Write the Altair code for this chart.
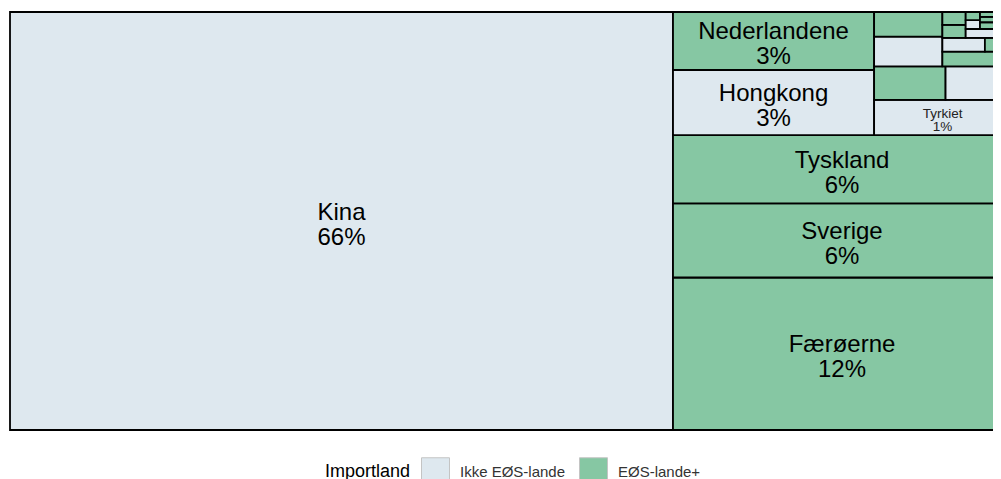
import altair as alt
import pandas as pd

# ---- data (import shares, percent) ----
lande = ["Kina", "Færøerne", "Sverige", "Tyskland", "Hongkong", "Nederlandene", "Tyrkiet",
         "Land 8", "Land 9", "Land 10", "Land 11", "Land 12", "Land 13", "Land 14",
         "Land 15", "Land 16", "Land 17", "Land 18", "Land 19", "Land 20", "Land 21",
         "Land 22", "Land 23", "Land 24", "Land 25", "Land 26"]
grupper = ["Ikke EØS-lande", "EØS-lande+", "EØS-lande+", "EØS-lande+", "Ikke EØS-lande",
           "EØS-lande+", "Ikke EØS-lande",
           "EØS-lande+", "Ikke EØS-lande", "Ikke EØS-lande", "EØS-lande+", "EØS-lande+",
           "Ikke EØS-lande", "EØS-lande+", "EØS-lande+", "EØS-lande+", "Ikke EØS-lande",
           "Ikke EØS-lande", "Ikke EØS-lande", "EØS-lande+", "EØS-lande+", "Ikke EØS-lande",
           "EØS-lande+", "EØS-lande+", "Ikke EØS-lande", "EØS-lande+"]
andele = [66.23, 12.32, 5.98, 5.52, 3.13, 2.787, 1.151,
          0.5725, 0.5244, 0.4841, 0.4032, 0.2438, 0.1389, 0.0853,
          0.072, 0.072, 0.060, 0.036, 0.030, 0.028, 0.026,
          0.024, 0.022, 0.020, 0.018, 0.016]
gruppe_orden = ["Ikke EØS-lande", "EØS-lande+"]
farver = ["#dee8ef", "#86c7a3"]


# ---- squarified treemap layout in a unit square ----
def worst(row, side):
    s = sum(row)
    return max(max(side * side * r / (s * s), (s * s) / (side * side * r)) for r in row)


def squarify(values, x, y, w, h):
    out = []
    items = list(values)
    while items:
        side = min(w, h)
        row = [items[0]]
        i = 1
        while i < len(items):
            cand = row + [items[i]]
            if worst([v for _, v in cand], side) <= worst([v for _, v in row], side):
                row = cand
                i += 1
            else:
                break
        s = sum(v for _, v in row)
        if w >= h:
            cw = s / h
            yy = y
            for k, v in row:
                rh = v / cw
                out.append((k, x, yy, x + cw, yy + rh))
                yy += rh
            x += cw
            w -= cw
        else:
            rh = s / w
            xx = x
            for k, v in row:
                rw = v / rh
                out.append((k, xx, y, xx + rw, y + rh))
                xx += rw
            y += rh
            h -= rh
        items = items[len(row):]
    return out


total = sum(andele)
order = sorted(range(len(andele)), key=lambda i: -andele[i])
rects = squarify([(i, andele[i] / total) for i in order], 0.0, 0.0, 1.0, 1.0)

rows = []
for k, x0, y0, x1, y1 in rects:
    rows.append({"land": lande[k], "gruppe": grupper[k], "frac": andele[k] / total,
                 "x0": x0, "x1": x1, "y0": y0, "y1": y1})
df = pd.DataFrame(rows)

FONT = "Liberation Sans"
FULL_W = 1001           # full treemap width; the right edge runs past the window
W, H = 983, 418         # visible part of the plot area

xs = alt.Scale(domain=[0, W / FULL_W], nice=False, zero=False)
ys = alt.Scale(domain=[0, 1], nice=False, zero=False)

base = alt.Chart(df)

tiles = base.mark_rect(stroke="black", strokeWidth=1.8).encode(
    x=alt.X("x0:Q", scale=xs, axis=None),
    x2="x1:Q",
    y=alt.Y("y0:Q", scale=ys, axis=None),
    y2="y1:Q",
    color=alt.Color(
        "gruppe:N",
        scale=alt.Scale(domain=gruppe_orden, range=farver),
        legend=alt.Legend(
            title="Importland", orient="none", direction="horizontal",
            titleOrient="left", legendX=315, legendY=445,
            symbolType="square", symbolSize=784,
            symbolStrokeColor="#c4c4c4", symbolStrokeWidth=1, symbolOpacity=1,
            labelFontSize=15, titleFontSize=18, titleFontWeight="normal",
            labelFont=FONT, titleFont=FONT, labelColor="#333333", titleColor="#000000",
            columnPadding=11, labelOffset=10, titlePadding=10,
        ),
    ),
)

lab_base = base.transform_calculate(
    cx="(datum.x0 + datum.x1) / 2",
    cy="(datum.y0 + datum.y1) / 2",
    label="datum.land + '\\n' + format(datum.frac, '.0%')",
)
enc = dict(
    x=alt.X("cx:Q", scale=xs, axis=None),
    y=alt.Y("cy:Q", scale=ys, axis=None),
    text="label:N",
)

labels_big = lab_base.transform_filter("datum.frac >= 0.02").mark_text(
    font=FONT, lineBreak="\n", baseline="middle", align="center", color="black",
    fontSize=24, lineHeight=25, dy=-8.5,
).encode(**enc)

labels_small = lab_base.transform_filter("datum.frac >= 0.01 && datum.frac < 0.02").mark_text(
    font=FONT, lineBreak="\n", baseline="middle", align="center", color="#222222",
    fontSize=13.5, lineHeight=13, dy=-4,
).encode(**enc)

chart = alt.layer(tiles, labels_big, labels_small).properties(
    width=W, height=H,
    padding={"left": 2, "top": 4, "right": 0, "bottom": 49},
    autosize=alt.AutoSizeParams(type="none"),
).configure_view(strokeWidth=0)

chart.save("out.html", embed_options={"renderer": "svg", "actions": False})
